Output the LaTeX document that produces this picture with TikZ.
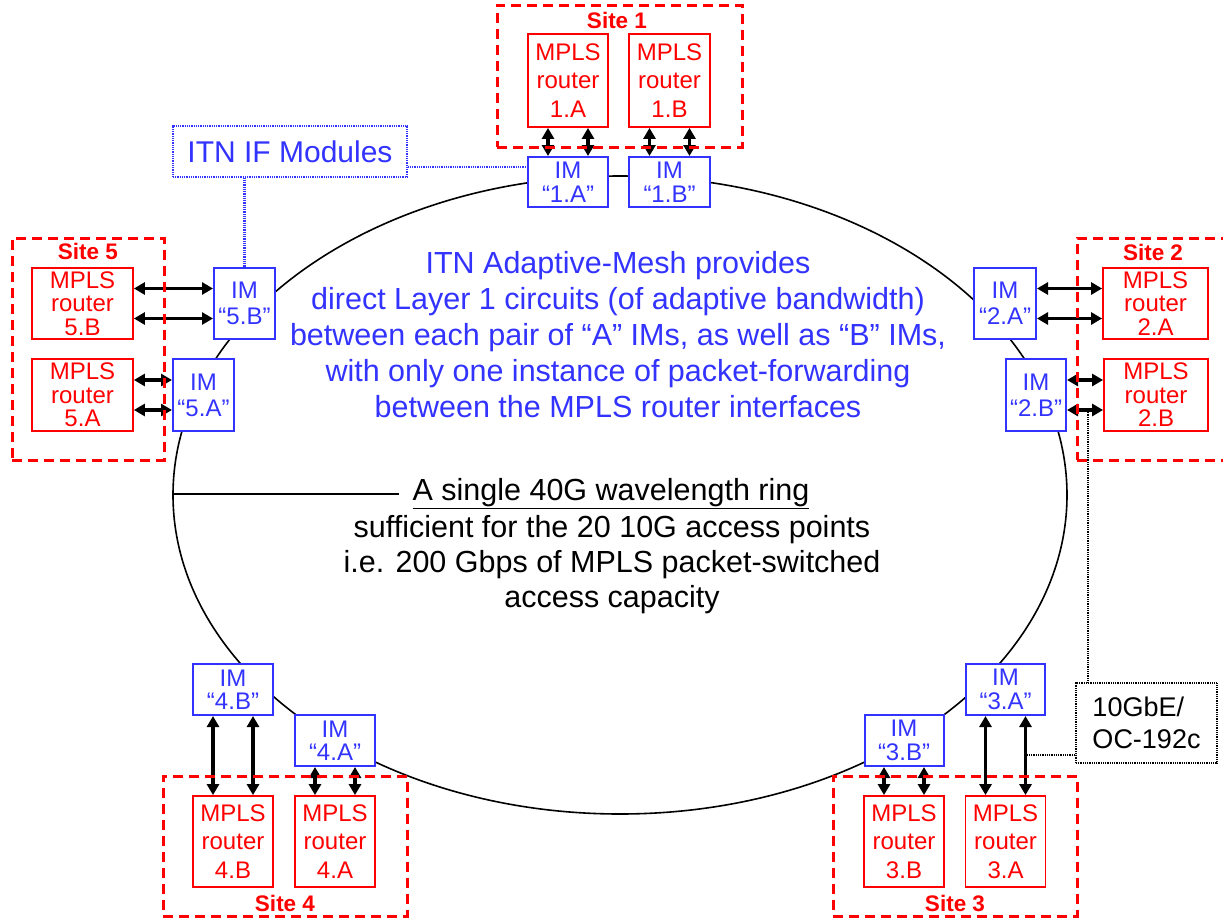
\documentclass[tikz,border=0pt]{standalone}
\usepackage{fontspec}
\setmainfont{Liberation Sans}
\usetikzlibrary{arrows.meta,shapes.geometric}
\definecolor{itnred}{RGB}{255,0,0}
\definecolor{itnblue}{RGB}{51,51,255}
\begin{document}
\begin{tikzpicture}[x=1pt,y=-1pt,
  router/.style={draw=itnred, line width=1.8pt, text=itnred, fill=white, inner sep=0pt, align=center, font=\fontsize{24}{28.5}\selectfont},
  routerw/.style={router, font=\fontsize{24}{23.5}\selectfont},
  imbox/.style={draw=itnblue, line width=2pt, text=itnblue, fill=white, inner sep=0pt, align=center, font=\fontsize{24}{23.5}\selectfont},
  imtall/.style={imbox, font=\fontsize{24}{26}\selectfont},
  sitebox/.style={draw=itnred, line width=3pt, dash pattern=on 10pt off 6pt, inner sep=0pt},
  sitelbl/.style={text=itnred, font=\fontsize{22.5}{24}\selectfont\bfseries, inner sep=0pt},
  biarrow/.style={{Triangle[length=11pt,width=12pt]}-{Triangle[length=11pt,width=12pt]}, line width=3.5pt},
  bdot/.style={draw=itnblue, line width=2.2pt, dash pattern=on 1pt off 0.8pt},
  kdot/.style={draw=black, line width=2.2pt, dash pattern=on 1pt off 0.8pt},
]
\useasboundingbox (0,0) rectangle (1223,918);
\fill[white] (0,0) rectangle (1223,918);

% ring
\node[draw, ellipse, line width=1.6pt, minimum width=894pt, minimum height=638pt, inner sep=0pt] (ring) at (620,495) {};

% central texts
\node[text=itnblue, align=center, font=\fontsize{30.5}{36}\selectfont] (mesh) at (618,334.5)
 {ITN Adaptive-Mesh provides\\direct Layer 1 circuits (of adaptive bandwidth)\\between each pair of “A” IMs, as well as “B” IMs,\\with only one instance of packet-forwarding\\between the MPLS router interfaces};
\node[font=\fontsize{30.5}{35}\selectfont, inner sep=0pt] (ttl) at (611,494) {\underline{A single 40G wavelength ring}};
\node[align=center, font=\fontsize{30.5}{35}\selectfont, inner sep=0pt] (cap) at (612,565)
 {sufficient for the 20 10G access points\\i.e. 200 Gbps of MPLS packet-switched\\access capacity};
\draw[line width=1.2pt] (ring.west |- ttl.west) -- ([xshift=-13pt]ttl.west);

% ITN IF Modules
\node[bdot, text=itnblue, font=\fontsize{30}{36}\selectfont, minimum width=234pt, minimum height=51pt, inner sep=0pt] (itn) at (290,151.5) {ITN IF Modules};

% IM boxes
\node[imbox, minimum width=80pt, minimum height=50pt] (i1A) at (568,182) {IM\\“1.A”};
\node[imbox, minimum width=81pt, minimum height=50pt] (i1B) at (669.5,182) {IM\\“1.B”};
\node[imtall, minimum width=61pt, minimum height=71pt] (i5B) at (244.5,303.5) {IM\\“5.B”};
\node[imtall, minimum width=61pt, minimum height=72pt] (i5A) at (203.5,395) {IM\\“5.A”};
\node[imtall, minimum width=62pt, minimum height=71pt] (i2A) at (1005,303.5) {IM\\“2.A”};
\node[imtall, minimum width=60pt, minimum height=72pt] (i2B) at (1036,395) {IM\\“2.B”};
\node[imbox, minimum width=79pt, minimum height=51pt] (i3A) at (1005.5,689.5) {IM\\“3.A”};
\node[imbox, minimum width=79pt, minimum height=51pt] (i3B) at (904,740.5) {IM\\“3.B”};
\node[imbox, minimum width=80pt, minimum height=51pt] (i4B) at (233,689.5) {IM\\“4.B”};
\node[imbox, minimum width=80pt, minimum height=51pt] (i4A) at (335,740.5) {IM\\“4.A”};

% routers
\node[router, minimum width=80pt, minimum height=93pt] (r1A) at (568,80.5) {MPLS\\router\\1.A};
\node[router, minimum width=81pt, minimum height=93pt] (r1B) at (669.5,80.5) {MPLS\\router\\1.B};
\node[routerw, minimum width=101pt, minimum height=71pt] (r5B) at (82.5,303.5) {MPLS\\router\\5.B};
\node[routerw, minimum width=101pt, minimum height=72pt] (r5A) at (82.5,395) {MPLS\\router\\5.A};
\node[routerw, minimum width=105pt, minimum height=71pt] (r2A) at (1155.5,303.5) {MPLS\\router\\2.A};
\node[routerw, minimum width=104pt, minimum height=72pt] (r2B) at (1156,395) {MPLS\\router\\2.B};
\node[router, minimum width=80pt, minimum height=91pt] (r3A) at (1005.5,841.5) {MPLS\\router\\3.A};
\node[router, minimum width=80pt, minimum height=91pt] (r3B) at (904,841.5) {MPLS\\router\\3.B};
\node[router, minimum width=80pt, minimum height=91pt] (r4B) at (233,841.5) {MPLS\\router\\4.B};
\node[router, minimum width=80pt, minimum height=91pt] (r4A) at (335,841.5) {MPLS\\router\\4.A};

% 10GbE box
\node[kdot, align=left, font=\fontsize{27}{32}\selectfont, minimum width=141pt, minimum height=80pt, inner sep=0pt] (g10) at (1146.5,723) {10GbE/\\OC-192c};

% dotted connectors
\path ([yshift=-15.5pt]itn.east) coordinate (itne);
\draw[bdot] (itne) -- (itne -| i1A.west);
\draw[bdot] (itn.south -| i5B.north) -- (i5B.north);
\path ([xshift=21pt,yshift=-15pt]i2B.east) coordinate (t2);
\draw[kdot] (t2) -- (t2 |- g10.north);
\path ([xshift=20pt]i3A.south) coordinate (t3);
\path ([yshift=-32pt]g10.west) coordinate (g10w);
\draw[kdot] (g10w) -- (g10w -| t3);

% arrows
\foreach \s in {-20,20} {
  \draw[biarrow] ([xshift=\s pt]r1A.south) -- ([xshift=\s pt]i1A.north);
  \draw[biarrow] ([xshift=\s pt]r1B.south) -- ([xshift=\s pt]i1B.north);
  \draw[biarrow] ([xshift=\s pt]i3A.south) -- ([xshift=\s pt]r3A.north);
  \draw[biarrow] ([xshift=\s pt]i3B.south) -- ([xshift=\s pt]r3B.north);
  \draw[biarrow] ([xshift=\s pt]i4A.south) -- ([xshift=\s pt]r4A.north);
  \draw[biarrow] ([xshift=\s pt]i4B.south) -- ([xshift=\s pt]r4B.north);
}
\foreach \s in {-15,15} {
  \draw[biarrow] ([yshift=\s pt]r5B.east) -- ([yshift=\s pt]i5B.west);
  \draw[biarrow] ([yshift=\s pt]r5A.east) -- ([yshift=\s pt]i5A.west);
  \draw[biarrow] ([yshift=\s pt]i2A.east) -- ([yshift=\s pt]r2A.west);
  \draw[biarrow] ([yshift=\s pt]i2B.east) -- ([yshift=\s pt]r2B.west);
}

% site boxes
\node[sitebox, minimum width=245pt, minimum height=142pt] (s1) at (619.5,76) {};
\node[sitebox, minimum width=152pt, minimum height=222pt] (s5) at (88,349) {};
\node[sitebox, minimum width=158pt, minimum height=222pt] (s2) at (1156,349) {};
\node[sitebox, minimum width=244pt, minimum height=140pt] (s3) at (955,846) {};
\node[sitebox, minimum width=244pt, minimum height=140pt] (s4) at (285,846) {};
\node[sitelbl] (l1) at (617,20) {Site 1};
\node[sitelbl] (l5) at (88,251) {Site 5};
\node[sitelbl] (l2) at (1153,252) {Site 2};
\node[sitelbl] (l3) at (955,903) {Site 3};
\node[sitelbl] (l4) at (285,903) {Site 4};
\end{tikzpicture}
\end{document}
